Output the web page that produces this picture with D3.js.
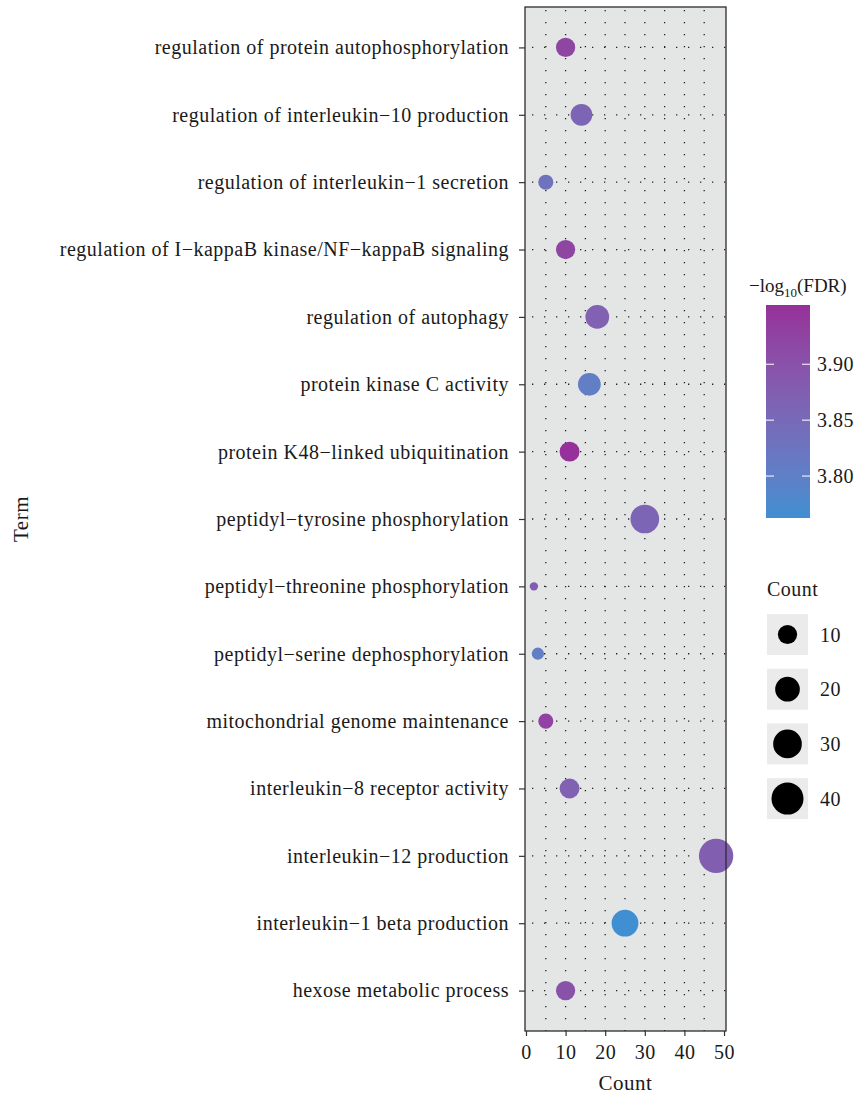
<!DOCTYPE html>
<html>
<head>
<meta charset="utf-8">
<script src="https://cdn.jsdelivr.net/npm/d3@7"></script>
<style>
  body { margin: 0; background: #fff; }
  svg text { font-family: "Liberation Serif", "DejaVu Serif", serif; fill: #1a1a1a; letter-spacing: 0.5px; }
</style>
</head>
<body>
<svg id="chart" width="856" height="1098"></svg>
<script>
// GO terms, listed top to bottom
const terms = [
  "regulation of protein autophosphorylation",
  "regulation of interleukin\u221210 production",
  "regulation of interleukin\u22121 secretion",
  "regulation of I\u2212kappaB kinase/NF\u2212kappaB signaling",
  "regulation of autophagy",
  "protein kinase C activity",
  "protein K48\u2212linked ubiquitination",
  "peptidyl\u2212tyrosine phosphorylation",
  "peptidyl\u2212threonine phosphorylation",
  "peptidyl\u2212serine dephosphorylation",
  "mitochondrial genome maintenance",
  "interleukin\u22128 receptor activity",
  "interleukin\u221212 production",
  "interleukin\u22121 beta production",
  "hexose metabolic process"
];
const counts = [10, 14, 5, 10, 18, 16, 11, 30, 2, 3, 5, 11, 48, 25, 10];
const negLogFDR = [3.920, 3.860, 3.830, 3.920, 3.870, 3.805, 3.953, 3.860, 3.875, 3.805, 3.925, 3.870, 3.875, 3.7625, 3.900];

const xTicks = [0, 10, 20, 30, 40, 50];
const xGrid = [5, 10, 15, 20, 25, 30, 35, 40, 45];
const colorTicks = [3.80, 3.85, 3.90];
const sizeKeys = [10, 20, 30, 40];

const svg = d3.select("#chart");
const panel = { left: 525, right: 726, top: 7, bottom: 1031 };

const x = d3.scaleLinear().domain([-0.25, 50.5]).range([panel.left, panel.right]);
const y = d3.scalePoint().domain(terms).range([panel.top, panel.bottom]).padding(0.6);

const cExtent = d3.extent(negLogFDR);
const color = d3.scaleLinear().domain(cExtent).range(["#3f8fd2", "#96309a"]).interpolate(d3.interpolateLab);

// bubble diameter grows with sqrt of the rescaled count
const sizeT = d3.scaleLinear().domain(d3.extent(counts)).range([0, 1]).clamp(true);
const diam = v => 8.4 + 26 * Math.sqrt(sizeT(v));

// panel background
svg.append("rect")
  .attr("x", panel.left).attr("y", panel.top)
  .attr("width", panel.right - panel.left).attr("height", panel.bottom - panel.top)
  .attr("fill", "#e4e5e5");

// dotted grid
const grid = svg.append("g").attr("stroke", "#222").attr("stroke-width", 1.3);
grid.selectAll("line.v").data(xGrid).join("line")
  .attr("x1", d => x(d)).attr("x2", d => x(d))
  .attr("y1", panel.top).attr("y2", panel.bottom)
  .attr("stroke-dasharray", "1.3,10.7").attr("stroke-dashoffset", -3);
grid.selectAll("line.h").data(terms).join("line")
  .attr("x1", panel.left).attr("x2", panel.right)
  .attr("y1", d => y(d)).attr("y2", d => y(d))
  .attr("stroke-dasharray", "1.3,10.7").attr("stroke-dashoffset", -7);

// bubbles
svg.append("g").selectAll("circle").data(terms).join("circle")
  .attr("cx", (d, i) => x(counts[i]))
  .attr("cy", d => y(d))
  .attr("r", (d, i) => diam(counts[i]) / 2)
  .attr("fill", (d, i) => color(negLogFDR[i]));

// panel border
svg.append("rect")
  .attr("x", panel.left).attr("y", panel.top)
  .attr("width", panel.right - panel.left).attr("height", panel.bottom - panel.top)
  .attr("fill", "none").attr("stroke", "#2b2b2b").attr("stroke-width", 1.3);

// axes
const yAxis = svg.append("g").attr("transform", `translate(${panel.left},0)`)
  .call(d3.axisLeft(y).tickSize(6).tickPadding(10));
yAxis.select(".domain").remove();
yAxis.selectAll(".tick line").attr("stroke", "#333").attr("stroke-width", 1.2);
yAxis.selectAll(".tick text").attr("font-size", 20).attr("fill", "#1a1a1a");

const xAxis = svg.append("g").attr("transform", `translate(0,${panel.bottom})`)
  .call(d3.axisBottom(x).tickValues(xTicks).tickSize(5).tickPadding(9));
xAxis.select(".domain").remove();
xAxis.selectAll(".tick line").attr("stroke", "#333").attr("stroke-width", 1.2);
xAxis.selectAll(".tick text").attr("font-size", 20).attr("fill", "#1a1a1a");

svg.append("text").attr("x", (panel.left + panel.right) / 2).attr("y", 1090)
  .attr("text-anchor", "middle").attr("font-size", 21).text("Count");
svg.append("text").attr("transform", `translate(28,${(panel.top + panel.bottom) / 2}) rotate(-90)`)
  .attr("text-anchor", "middle").attr("font-size", 21).text("Term");

// colour bar legend
const cb = { x: 766, y: 305, w: 44, h: 213 };
const grad = svg.append("defs").append("linearGradient")
  .attr("id", "fdrGrad").attr("x1", 0).attr("y1", 1).attr("x2", 0).attr("y2", 0);
d3.range(0, 1.0001, 0.1).forEach(t => {
  grad.append("stop").attr("offset", t)
    .attr("stop-color", color(cExtent[0] + t * (cExtent[1] - cExtent[0])));
});
svg.append("rect").attr("x", cb.x).attr("y", cb.y).attr("width", cb.w).attr("height", cb.h)
  .attr("fill", "url(#fdrGrad)");
const cy = d3.scaleLinear().domain(cExtent).range([cb.y + cb.h, cb.y]);
const cbTicks = svg.append("g");
colorTicks.forEach(v => {
  cbTicks.append("line").attr("x1", cb.x).attr("x2", cb.x + 8).attr("y1", cy(v)).attr("y2", cy(v))
    .attr("stroke", "#fff").attr("stroke-width", 1.2).attr("opacity", 0.85);
  cbTicks.append("line").attr("x1", cb.x + cb.w - 8).attr("x2", cb.x + cb.w).attr("y1", cy(v)).attr("y2", cy(v))
    .attr("stroke", "#fff").attr("stroke-width", 1.2).attr("opacity", 0.85);
  cbTicks.append("text").attr("x", 817).attr("y", cy(v)).attr("dy", "0.35em")
    .attr("font-size", 20).text(v.toFixed(2));
});
const cTitle = svg.append("text").attr("x", 749).attr("y", 292).attr("font-size", 19)
  .style("letter-spacing", "0px");
cTitle.append("tspan").text("\u2212log");
cTitle.append("tspan").attr("font-size", 13).attr("dy", 5).text("10");
cTitle.append("tspan").attr("dy", -5).text("(FDR)");

// size legend
svg.append("text").attr("x", 767).attr("y", 596).attr("font-size", 20).text("Count");
const keyG = svg.append("g").selectAll("g").data(sizeKeys).join("g")
  .attr("transform", (d, i) => `translate(767,${614 + i * 54.7})`);
keyG.append("rect").attr("width", 41).attr("height", 41).attr("fill", "#ebebeb");
keyG.append("circle").attr("cx", 20.5).attr("cy", 20.5).attr("r", d => diam(d) / 2).attr("fill", "#000");
keyG.append("text").attr("x", 53).attr("y", 20.5).attr("dy", "0.35em").attr("font-size", 20).text(d => d);
</script>
</body>
</html>
